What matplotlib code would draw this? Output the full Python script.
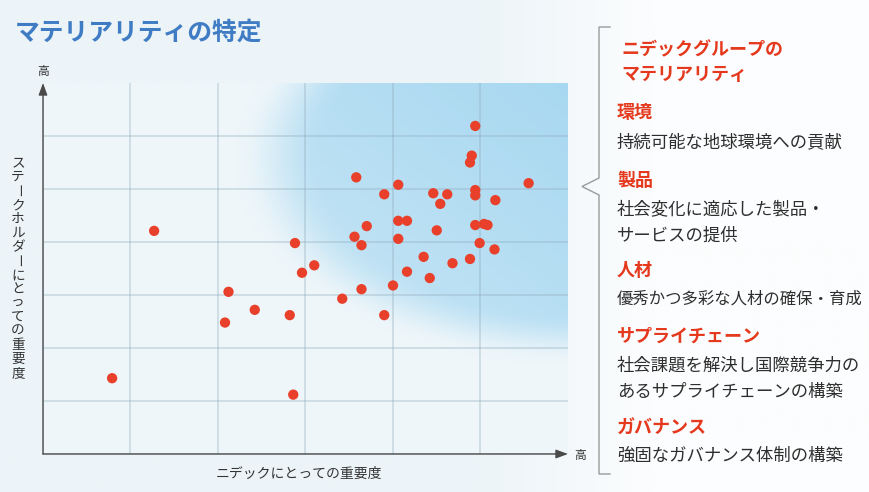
import numpy as np
import matplotlib
matplotlib.use("Agg")
import matplotlib.pyplot as plt

plt.rcParams['font.family'] = ['Noto Sans CJK JP', 'DejaVu Sans']

# ---------------- data ----------------
x_vals = [4.94, 4.90, 4.88, 3.58, 4.06, 5.55, 3.90, 4.46, 4.62, 4.94, 4.94,
          4.54, 5.17, 3.70, 4.06, 4.16, 4.50, 4.94, 5.04, 5.08, 2.88, 3.56,
          3.64, 4.06, 4.99, 5.16, 4.35, 4.88, 4.68, 3.10, 2.96, 4.16, 4.42,
          4.00, 3.64, 3.42, 2.82, 3.90, 1.27, 2.12, 2.42, 2.08, 0.79, 2.86]
y_vals = [6.19, 5.63, 5.50, 5.22, 5.08, 5.11, 4.90, 4.92, 4.90, 4.98, 4.88,
          4.72, 4.79, 4.30, 4.40, 4.40, 4.22, 4.32, 4.34, 4.32, 3.98, 4.10,
          3.94, 4.06, 3.98, 3.86, 3.72, 3.68, 3.60, 3.56, 3.42, 3.44, 3.32,
          3.18, 3.11, 2.93, 2.62, 2.62, 4.21, 3.06, 2.72, 2.48, 1.43, 1.12]

title = 'マテリアリティの特定'
x_label = 'ニデックにとっての重要度'
y_label = 'ステークホルダーにとっての重要度'
high_label = '高'

panel_title = ['ニデックグループの', 'マテリアリティ']
headings = ['環境', '製品', '人材', 'サプライチェーン', 'ガバナンス']
bodies = [['持続可能な地球環境への貢献'],
          ['社会変化に適応した製品・', 'サービスの提供'],
          ['優秀かつ多彩な人材の確保・育成'],
          ['社会課題を解決し国際競争力の', 'あるサプライチェーンの構築'],
          ['強固なガバナンス体制の構築']]

# ---------------- figure ----------------
W, H = 870, 492
fig = plt.figure(figsize=(W / 100, H / 100), dpi=100)
fig.patch.set_facecolor('#F7FBFD')

# background axes in pixel coordinates
bg = fig.add_axes([0, 0, 1, 1], zorder=0)
bg.set_xlim(0, W)
bg.set_ylim(H, 0)
bg.axis('off')
gx = np.linspace(0, 1, 300)
c_left = np.array([236, 244, 248]) / 255
c_right = np.array([252, 253, 254]) / 255
t = np.clip((gx - 0.55) / 0.2, 0, 1)
grad = (c_left[None, :] * (1 - t[:, None]) + c_right[None, :] * t[:, None])
bg.imshow(grad[None, :, :], extent=(0, W, H, 0), aspect='auto', zorder=0)

# chart axes
L, R, T, B = 43, 568, 83, 454
ax = fig.add_axes([L / W, (H - B) / H, (R - L) / W, (B - T) / H], zorder=1)
ax.set_xlim(0, 6)
ax.set_ylim(0, 7)
ax.patch.set_alpha(0)

# blue glow (upper right)
ny, nx = B - T, R - L
py = T + np.arange(ny)[:, None] + 0.5
px = L + np.arange(nx)[None, :] + 0.5
cx, cy, rx, ry = 570, 160, 320, 195
d = np.sqrt(((px - cx) / rx) ** 2 + ((py - cy) / ry) ** 2)
m = np.clip((1.05 - d) / 0.27, 0, 1)
m = m * m * (3 - 2 * m)
g = np.clip((px - 250) / 318, 0, 1) * 0.5 + np.clip((350 - py) / 267, 0, 1) * 0.5
a = m * (0.5 + 0.5 * g)
base = np.array([238, 246, 250]) / 255
blue = np.array([168, 216, 241]) / 255
img = base[None, None, :] * (1 - a[..., None]) + blue[None, None, :] * a[..., None]
ax.imshow(img, extent=(0, 6, 0, 7), origin='upper', aspect='auto',
          interpolation='bilinear', zorder=0)

ax.set_xticks(range(6))
ax.set_yticks(range(7))
ax.grid(True, color='#8FA9B9', alpha=0.42, lw=1.1)
ax.tick_params(length=0, labelbottom=False, labelleft=False)
for s in ax.spines.values():
    s.set_visible(False)

ax.scatter(x_vals, y_vals, s=55, color='#E8402A', edgecolors='none', zorder=3)

arrow = dict(arrowstyle='-|>,head_length=0.6,head_width=0.22', color='#4A4A4A',
             lw=1.0, mutation_scale=12, shrinkA=0, shrinkB=0)
ax.annotate('', xy=(0, 1.0), xytext=(0, 0), xycoords='axes fraction',
            textcoords='axes fraction', arrowprops=arrow, zorder=4)
ax.annotate('', xy=(1.0, 0), xytext=(0, 0), xycoords='axes fraction',
            textcoords='axes fraction', arrowprops=arrow, zorder=4)

# texts (pixel coordinates in bg axes)
bg.text(15, 33, title, fontsize=17.8, fontweight='bold', color='#3F7CC4',
        va='center', ha='left')
bg.text(43, 72, high_label, fontsize=8.5, color='#333333', va='center', ha='center')
bg.text(580, 455, high_label, fontsize=8.5, color='#333333', va='center', ha='center')
bg.text(299, 474, x_label, fontsize=10, color='#333333', va='center', ha='center')
for i, ch in enumerate(y_label):
    bg.text(18, 163 + i * 14, ch, fontsize=9.8, color='#333333', va='center',
            ha='center', rotation=(-90 if ch == 'ー' else 0))

# bracket
bx = [610, 599, 599, 582, 599, 599, 610]
by = [27, 27, 178, 186.5, 195, 474, 474]
bg.plot(bx, by, color='#9A9A9A', lw=1.0, solid_joinstyle='miter')

red = '#E5391E'
for yy, s in zip([50, 75], panel_title):
    bg.text(621, yy, s, fontsize=13, fontweight='bold', color=red, va='center')
head_y = [113, 180, 271, 336, 428]
body_y = [[142], [209, 236], [299], [366, 392], [456]]
for h, hy, bl, bys in zip(headings, head_y, bodies, body_y):
    bg.text(617, hy, h, fontsize=13, fontweight='bold', color=red, va='center')
    for s, yy in zip(bl, bys):
        fs = 12.5 if len(s) <= 14 else 11.8
        bg.text(617, yy, s, fontsize=fs, color='#2E2E2E', va='center')

fig.savefig('out.png', dpi=100, facecolor=fig.get_facecolor())
